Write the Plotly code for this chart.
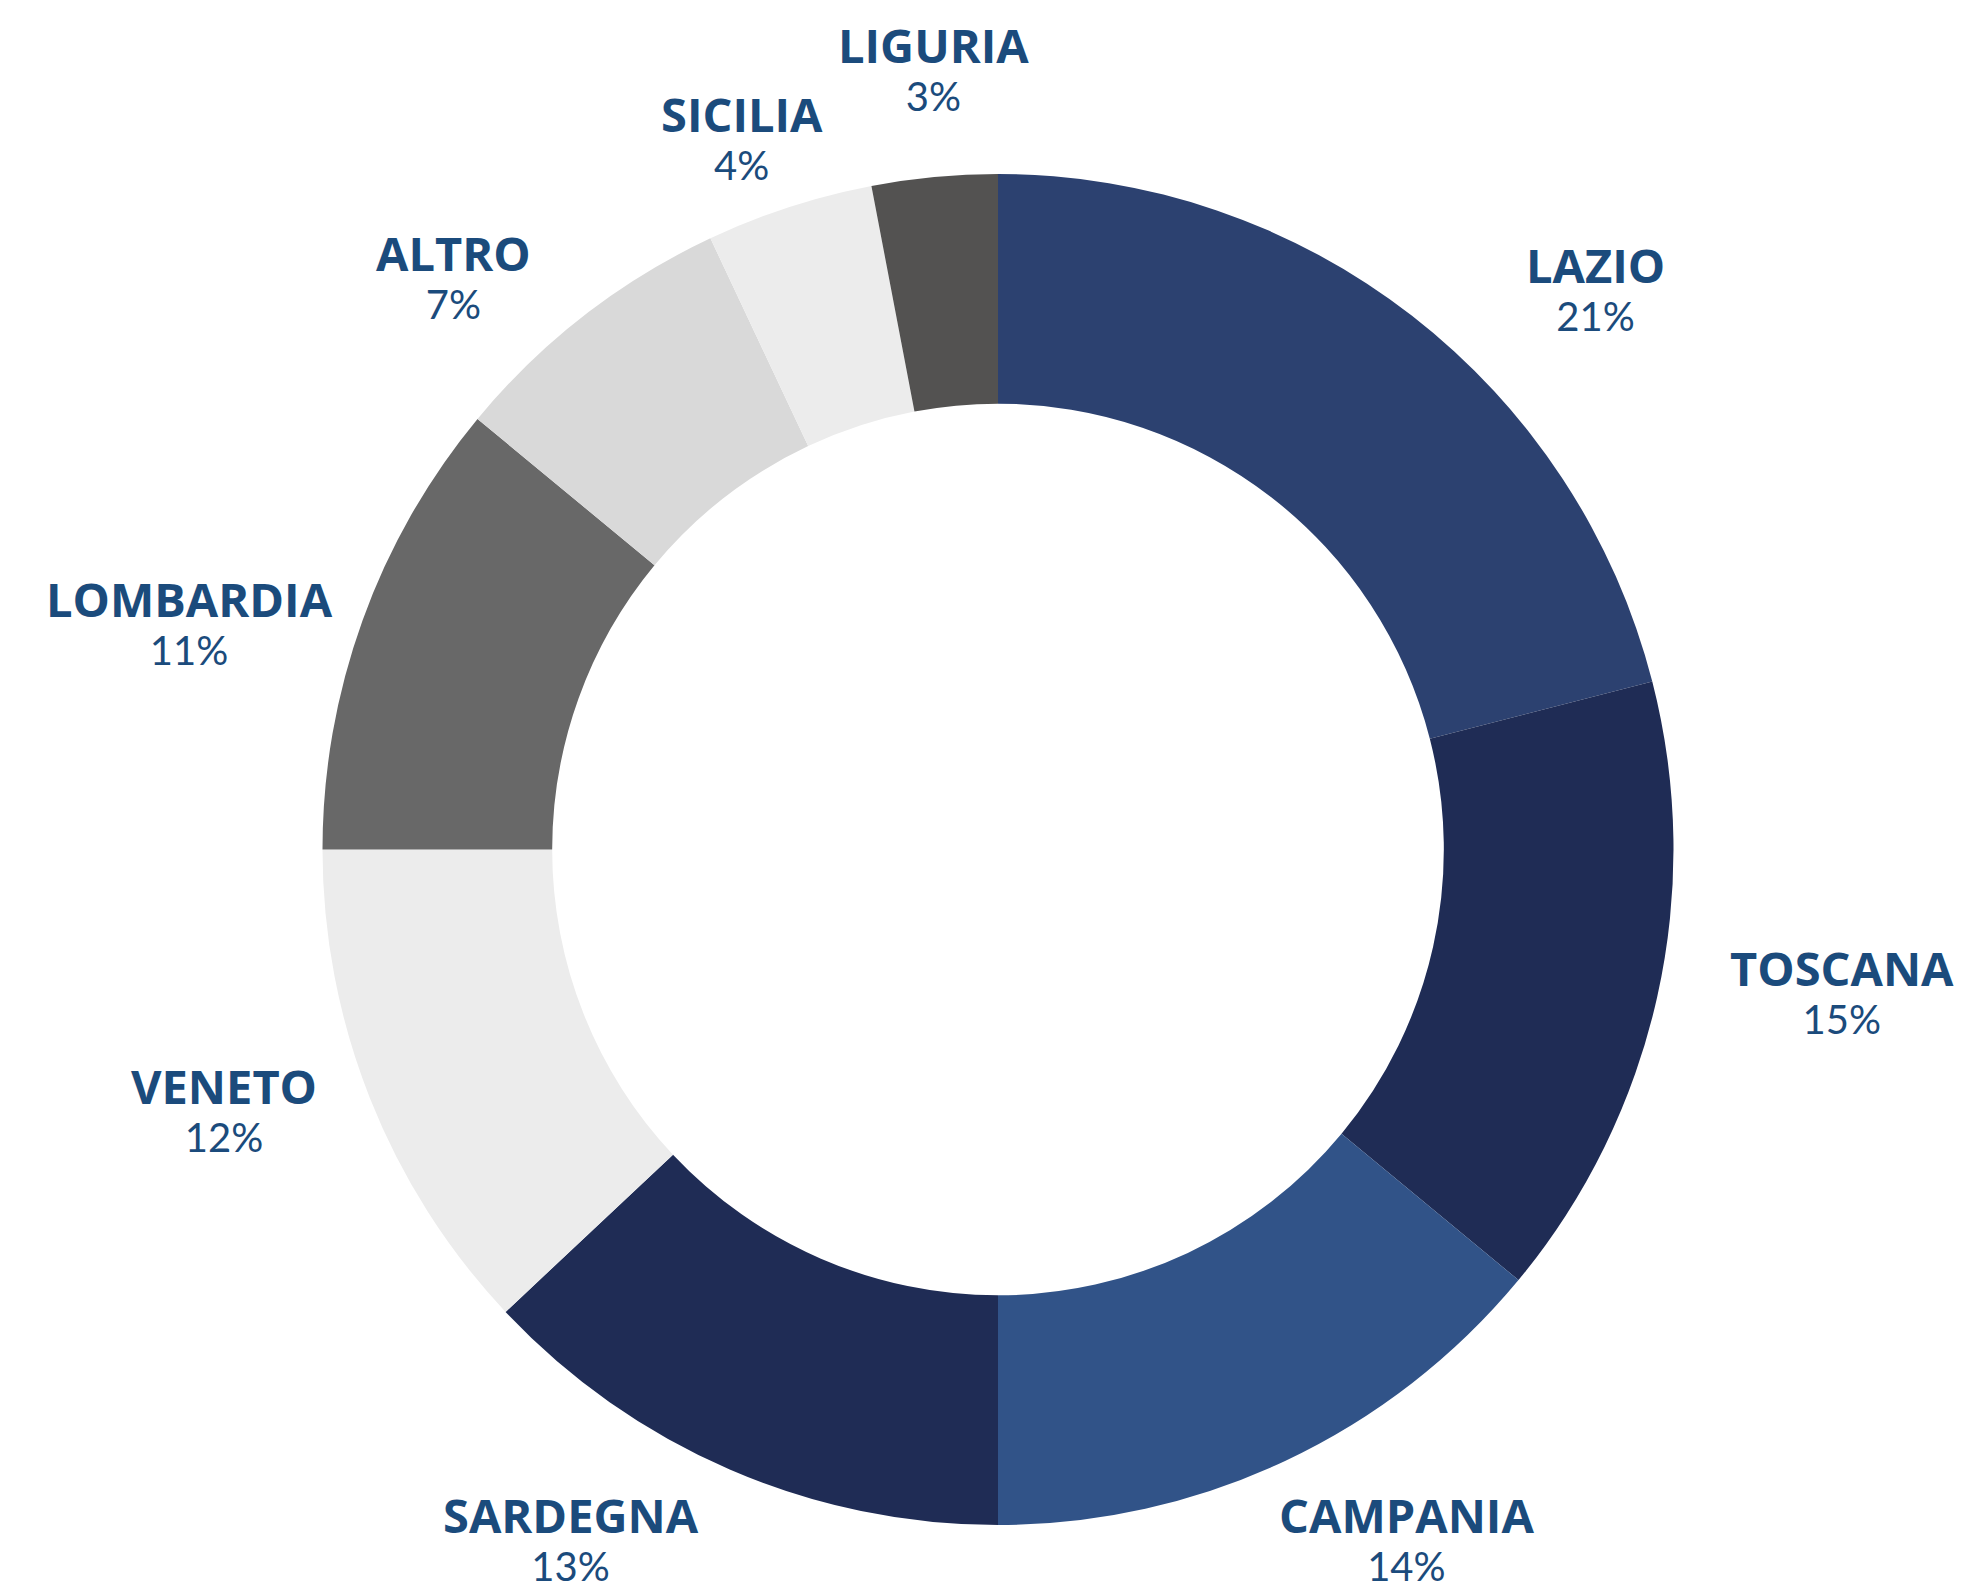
import plotly.graph_objects as go

# ---- data ----
regions = ["LAZIO", "TOSCANA", "CAMPANIA", "SARDEGNA", "VENETO",
           "LOMBARDIA", "ALTRO", "SICILIA", "LIGURIA"]
shares = [21, 15, 14, 13, 12, 11, 7, 4, 3]

# ---- styling ----
colors = ["#2c4170", "#1f2c55", "#315388", "#1f2c55", "#ececec",
          "#686868", "#d9d9d9", "#ececec", "#535251"]
LABEL_COLOR = "#1b4b7c"

W, H = 1966, 1592
CX, CY, R = 998, 849.5, 675.5  # pie centre / radius in pixels

# label block centres (pixels) – layout only
label_xy = [(1595, 286), (1842, 990), (1406, 1536), (571, 1536),
            (224, 1107), (189, 620), (453, 274), (742, 135), (933, 66)]

fig = go.Figure(go.Pie(
    labels=regions,
    values=shares,
    sort=False,
    direction="clockwise",
    rotation=0,
    hole=0.66,
    marker=dict(colors=colors, line=dict(width=0)),
    textinfo="none",
    hoverinfo="label+percent",
    domain=dict(x=[(CX - R) / W, (CX + R) / W],
                y=[1 - (CY + R) / H, 1 - (CY - R) / H]),
    showlegend=False,
))

annotations = []
for name, val, (x, y) in zip(regions, shares, label_xy):
    text = (f"<span style='font-family:Open Sans;font-size:47px;font-weight:bold'>{name}</span>"
            f"<br><span style='font-family:Lato;font-size:40px'>{val}%</span>")
    annotations.append(dict(
        text=text, x=x / W, y=1 - y / H,
        xref="paper", yref="paper", xanchor="center", yanchor="middle",
        showarrow=False,
        font=dict(family="Lato", size=37, color=LABEL_COLOR)))

fig.update_layout(
    width=W, height=H,
    margin=dict(l=0, r=0, t=0, b=0),
    paper_bgcolor="white",
    plot_bgcolor="white",
    annotations=annotations,
)

fig.write_html(
    "out.html",
    config={"displayModeBar": False},
    post_script="document.body.style.margin='0';document.body.style.overflow='hidden';",
)
